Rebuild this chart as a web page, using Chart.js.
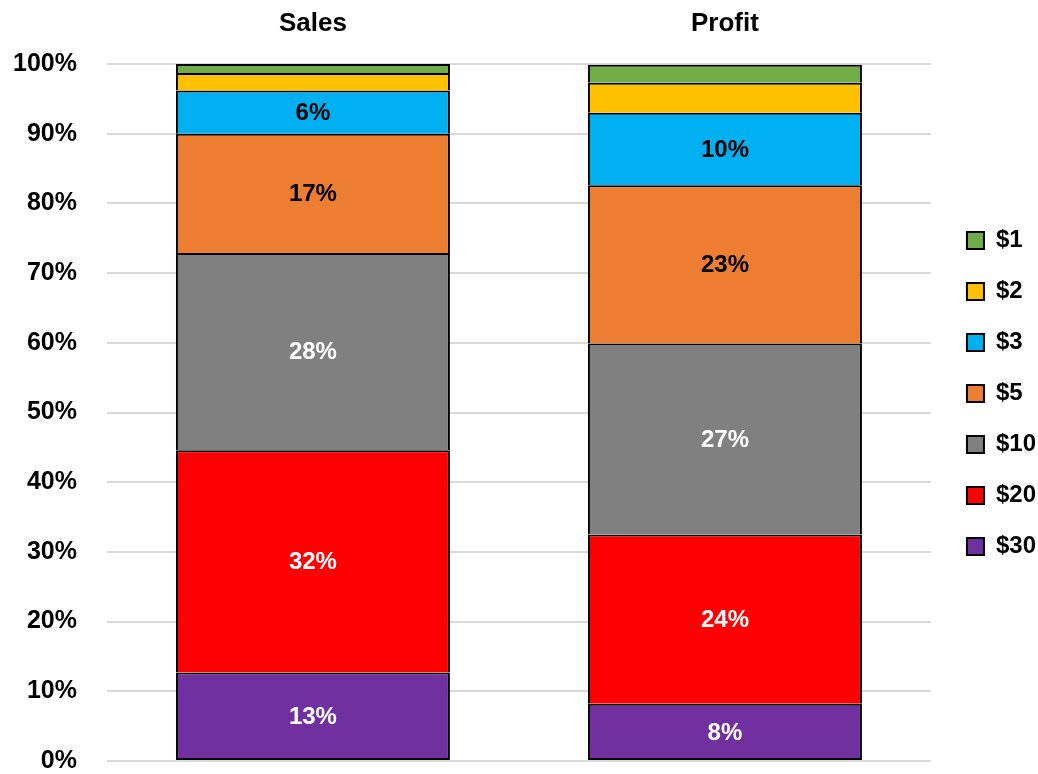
<!DOCTYPE html>
<html>
<head>
<meta charset="utf-8">
<script src="https://cdn.jsdelivr.net/npm/chart.js@4"></script>
<style>
  html, body { margin: 0; padding: 0; background: #fff; }
  .wrap { width: 1038px; height: 774px; position: relative; }
</style>
</head>
<body>
<div class="wrap"><canvas id="shareChart"></canvas></div>
<script>
    // Категории и серии (проценты, снизу вверх)
    const categories = ['Sales', 'Profit'];
    const seriesNames = ['$30', '$20', '$10', '$5', '$3', '$2', '$1'];
    const salesValues = [12.7, 31.9, 28.3, 17.1, 6.2, 2.5, 1.3];
    const profitValues = [8.2, 24.3, 27.4, 22.7, 10.4, 4.3, 2.6];
    const yTicks = [0, 10, 20, 30, 40, 50, 60, 70, 80, 90, 100];

    const colors = ['#7030A0', '#FF0000', '#808080', '#ED7D31', '#00B0F0', '#FFC000', '#70AD47'];
    const labelColors = ['#fff', '#fff', '#fff', '#000', '#000', '#000', '#000'];

    const fontFamily = "'Liberation Sans Narrow', 'Arial Narrow', 'Liberation Sans', Arial, sans-serif";

    const datasets = seriesNames.map((name, i) => ({
        label: name,
        data: [salesValues[i], profitValues[i]],
        backgroundColor: colors[i],
        borderColor: '#000',
        borderWidth: 2,
        // нижний сегмент с рамкой со всех сторон, остальные без нижней кромки
        borderSkipped: i === 0 ? false : 'start',
        barPercentage: 0.665,
        categoryPercentage: 1
    }));

    // Подписи значений внутри сегментов
    const valueLabels = {
        id: 'valueLabels',
        afterDatasetsDraw(chart) {
            const ctx = chart.ctx;
            ctx.save();
            ctx.font = "bold 24px " + fontFamily;
            ctx.textAlign = 'center';
            ctx.textBaseline = 'middle';
            chart.data.datasets.forEach((ds, i) => {
                const meta = chart.getDatasetMeta(i);
                meta.data.forEach((bar, j) => {
                    const v = ds.data[j];
                    if (v < 5) return;
                    ctx.fillStyle = labelColors[i];
                    ctx.fillText(Math.round(v) + '%', bar.x, (bar.y + bar.base) / 2 + 1);
                });
            });
            ctx.restore();
        }
    };

    // Сдвиг легенды чуть правее и ниже
    const legendShift = {
        id: 'legendShift',
        afterLayout(chart) {
            if (chart.legend) {
                chart.legend.left += 9;
                chart.legend.right += 9;
                chart.legend.top += 13;
                chart.legend.bottom += 13;
            }
        }
    };

    new Chart(document.getElementById('shareChart'), {
        type: 'bar',
        data: { labels: categories, datasets: datasets },
        options: {
            responsive: true,
            maintainAspectRatio: false,
            animation: false,
            layout: { padding: { top: 0, right: 1, bottom: 13, left: 11 } },
            scales: {
                x: {
                    stacked: true,
                    position: 'top',
                    grid: { display: false },
                    border: { display: false },
                    afterFit: axis => { axis.height = 64; },
                    ticks: {
                        color: '#000',
                        padding: 17,
                        font: { family: fontFamily, size: 26, weight: 'bold' }
                    }
                },
                y: {
                    stacked: true,
                    min: 0,
                    max: 100,
                    afterBuildTicks: axis => { axis.ticks = yTicks.map(v => ({ value: v })); },
                    afterFit: axis => { axis.paddingTop = 0; axis.paddingBottom = 0; },
                    grid: { color: '#d9d9d9', lineWidth: 2, tickLength: 28, tickColor: 'rgba(0,0,0,0)' },
                    border: { display: false },
                    ticks: {
                        color: '#000',
                        padding: 2,
                        font: { family: fontFamily, size: 25, weight: 'bold' },
                        callback: v => v + '%'
                    }
                }
            },
            plugins: {
                legend: {
                    position: 'right',
                    reverse: true,
                    labels: {
                        color: '#000',
                        boxWidth: 17,
                        boxHeight: 17,
                        padding: 27,
                        font: { family: fontFamily, size: 24, weight: 'bold' }
                    }
                },
                tooltip: { enabled: false }
            }
        },
        plugins: [valueLabels, legendShift]
    });
</script>
</body>
</html>
